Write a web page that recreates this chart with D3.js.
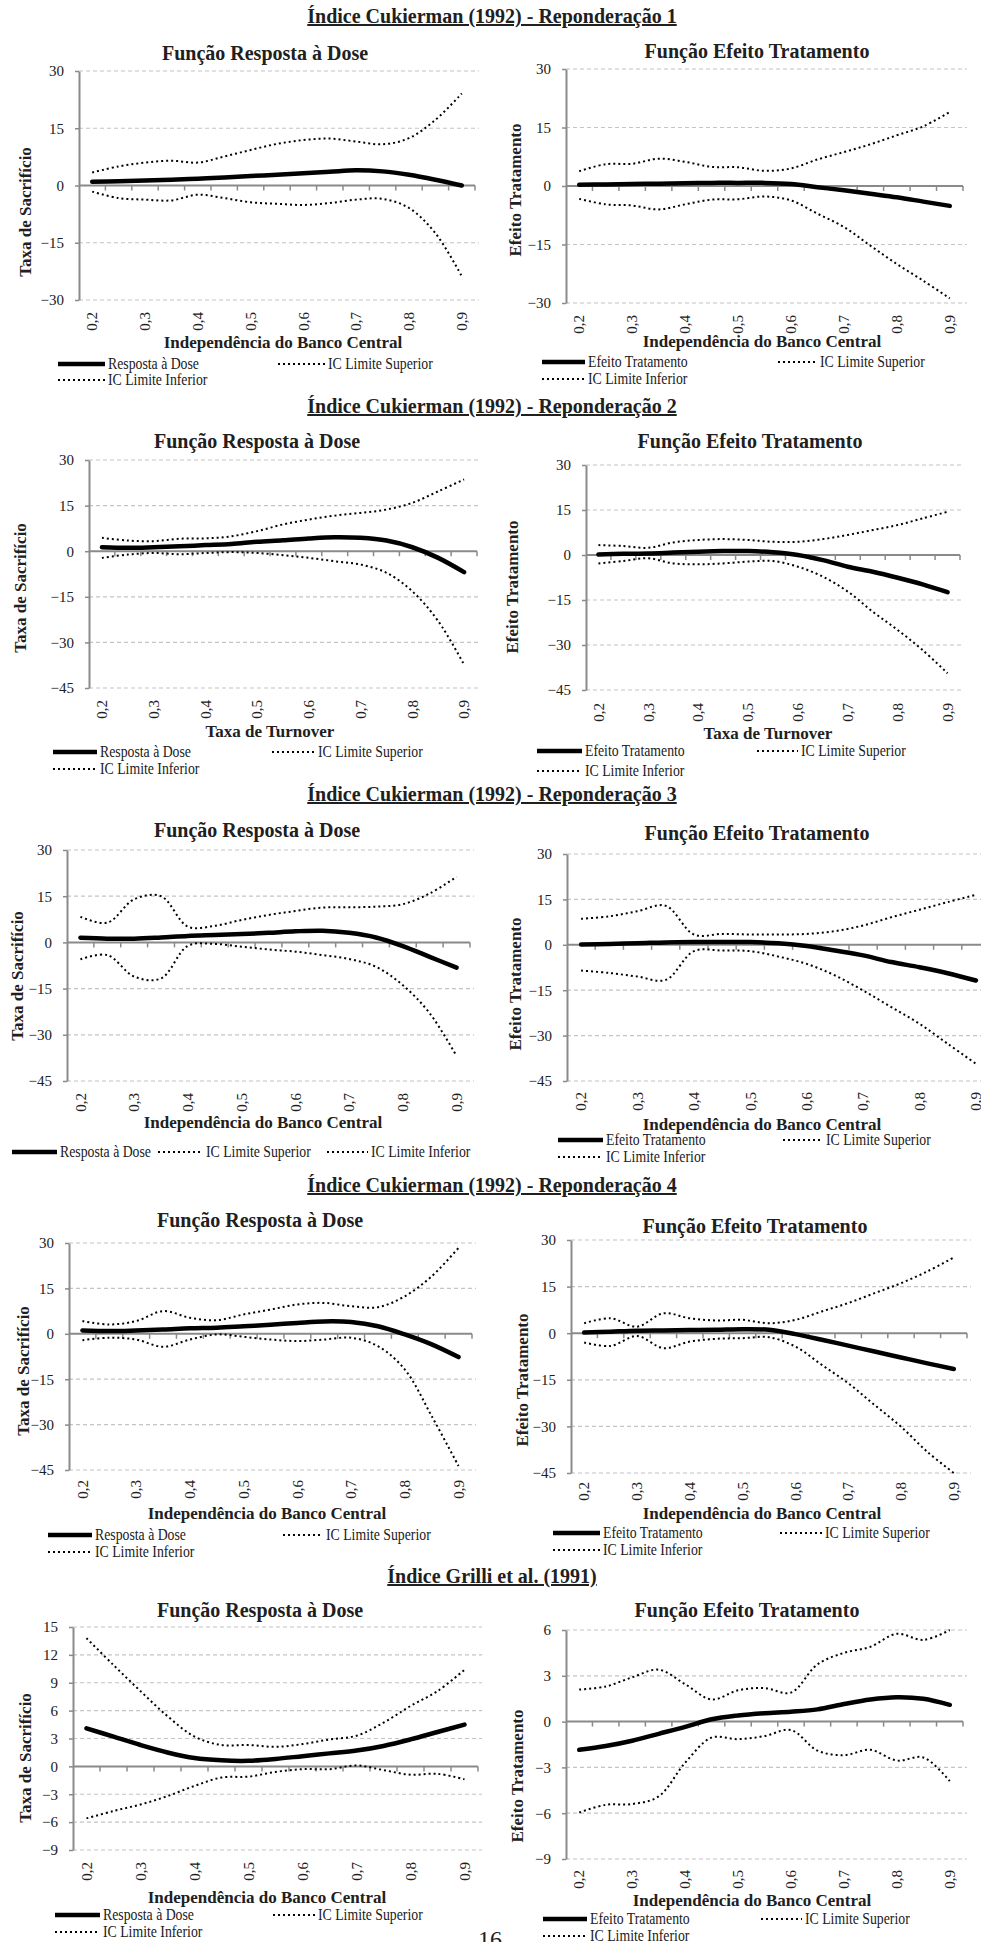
<!DOCTYPE html>
<html>
<head>
<meta charset="utf-8">
<script src="https://cdn.jsdelivr.net/npm/d3@7"></script>
<style>
  body { margin: 0; background: #fff; }
  text { font-family: "Liberation Serif", "Times New Roman", serif; fill: #202020; }
</style>
</head>
<body>
<script>
// 1. DATA ------------------------------------------------------------------

const xCats = [0.2, 0.25, 0.3, 0.35, 0.4, 0.45, 0.5, 0.55, 0.6, 0.65, 0.7, 0.75, 0.8, 0.85, 0.9];
const xTickLabels = ["0,2", "", "0,3", "", "0,4", "", "0,5", "", "0,6", "", "0,7", "", "0,8", "", "0,9"];

const sectionTitles = [
  "Índice Cukierman (1992) - Reponderação 1",
  "Índice Cukierman (1992) - Reponderação 2",
  "Índice Cukierman (1992) - Reponderação 3",
  "Índice Cukierman (1992) - Reponderação 4",
  "Índice Grilli et al. (1991)"
];

const ticks30 = [30, 15, 0, -15, -30];
const ticks45 = [30, 15, 0, -15, -30, -45];
const ticksG1 = [15, 12, 9, 6, 3, 0, -3, -6, -9];
const ticksG2 = [6, 3, 0, -3, -6, -9];

// Reponderação 1
const r1Dose   = [1.0, 1.1, 1.3, 1.5, 1.8, 2.1, 2.5, 2.8, 3.2, 3.6, 4.0, 3.7, 2.8, 1.5, 0.0];
const r1DoseUp = [3.4, 5.0, 6.0, 6.5, 6.0, 7.6, 9.3, 10.9, 11.9, 12.3, 11.5, 10.8, 12.4, 17.2, 24.1];
const r1DoseLo = [-1.6, -3.3, -3.7, -3.9, -2.4, -3.3, -4.4, -4.8, -5.1, -4.6, -3.7, -3.5, -5.9, -12.5, -23.8];
const r1Ef     = [0.3, 0.4, 0.5, 0.6, 0.7, 0.8, 0.8, 0.8, 0.5, -0.3, -1.1, -2.0, -2.9, -4.0, -5.1];
const r1EfUp   = [3.8, 5.6, 5.7, 7.0, 6.2, 4.9, 4.8, 3.9, 4.5, 6.8, 8.7, 10.7, 13.0, 15.3, 19.0];
const r1EfLo   = [-3.3, -4.7, -5.0, -6.0, -4.7, -3.5, -3.4, -2.7, -3.7, -7.1, -10.5, -15.3, -20.0, -24.3, -28.8];

// Reponderação 2
const r2Dose   = [1.3, 1.1, 1.3, 1.6, 2.0, 2.4, 3.1, 3.6, 4.2, 4.6, 4.4, 3.5, 1.3, -2.2, -6.9];
const r2DoseUp = [4.4, 3.5, 3.3, 4.1, 4.2, 4.9, 6.6, 8.8, 10.4, 11.7, 12.6, 13.7, 15.9, 19.7, 23.6];
const r2DoseLo = [-2.2, -1.1, -0.6, -1.0, -0.6, -0.3, -0.6, -1.3, -2.2, -3.3, -4.4, -7.1, -13.2, -23.0, -37.3];
const r2Ef     = [0.2, 0.4, 0.5, 0.8, 1.1, 1.3, 1.3, 0.9, 0.0, -1.7, -3.9, -5.6, -7.6, -9.8, -12.4];
const r2EfUp   = [3.3, 3.0, 2.4, 4.2, 5.0, 5.3, 5.0, 4.4, 4.4, 5.3, 6.7, 8.3, 10.0, 12.2, 14.4];
const r2EfLo   = [-2.8, -2.0, -1.1, -2.8, -3.1, -2.8, -2.2, -2.0, -3.9, -7.2, -12.2, -18.9, -25.0, -31.7, -39.4];

// Reponderação 3
const r3Dose   = [1.5, 1.2, 1.2, 1.6, 2.1, 2.4, 2.7, 3.1, 3.6, 3.8, 3.1, 1.6, -1.2, -4.7, -8.2];
const r3DoseUp = [8.3, 6.4, 14.0, 15.0, 5.1, 5.4, 7.3, 8.9, 10.2, 11.3, 11.4, 11.6, 12.4, 15.9, 21.3];
const r3DoseLo = [-5.5, -4.1, -11.1, -11.7, -1.1, -0.5, -1.4, -2.3, -3.0, -4.1, -5.4, -7.9, -13.9, -23.0, -36.9];
const r3Ef     = [0.1, 0.3, 0.5, 0.8, 0.9, 0.9, 0.9, 0.5, -0.4, -1.9, -3.5, -5.7, -7.4, -9.4, -11.8];
const r3EfUp   = [8.6, 9.4, 11.1, 12.9, 3.4, 3.6, 3.4, 3.4, 3.6, 4.5, 6.4, 9.1, 11.6, 14.1, 16.5];
const r3EfLo   = [-8.5, -9.3, -10.5, -11.6, -2.1, -1.9, -2.1, -3.9, -6.3, -10.1, -15.1, -20.6, -26.1, -32.7, -39.3];

// Reponderação 4
const r4Dose   = [1.1, 0.9, 1.1, 1.4, 1.8, 2.0, 2.5, 3.0, 3.6, 4.1, 3.9, 2.5, -0.2, -3.5, -7.7];
const r4DoseUp = [4.2, 3.1, 4.2, 7.5, 5.3, 4.5, 6.4, 8.0, 9.7, 10.2, 9.1, 8.8, 12.4, 19.0, 28.4];
const r4DoseLo = [-2.1, -1.3, -1.9, -4.3, -1.9, -0.2, -1.0, -1.9, -2.4, -1.9, -1.3, -4.1, -11.8, -27.2, -43.7];
const r4Ef     = [0.2, 0.5, 0.8, 0.9, 1.0, 1.1, 1.3, 1.1, -0.3, -2.1, -4.0, -5.9, -7.8, -9.7, -11.5];
const r4EfUp   = [3.2, 4.8, 2.1, 6.4, 4.8, 4.1, 4.3, 3.2, 4.3, 7.0, 9.7, 12.9, 16.1, 19.9, 24.4];
const r4EfLo   = [-3.0, -4.1, -0.9, -4.8, -2.7, -1.8, -1.6, -1.3, -4.3, -10.2, -16.1, -23.1, -30.1, -38.2, -45.0];

// Grilli et al. (1991)
const gDose    = [4.1, 3.2, 2.3, 1.5, 0.9, 0.65, 0.6, 0.8, 1.1, 1.4, 1.7, 2.2, 2.9, 3.7, 4.5];
const gDoseUp  = [13.8, 10.9, 8.1, 5.4, 3.2, 2.3, 2.3, 2.1, 2.4, 2.9, 3.3, 4.7, 6.5, 8.1, 10.4];
const gDoseLo  = [-5.6, -4.8, -4.1, -3.2, -2.1, -1.2, -1.1, -0.6, -0.3, -0.3, 0.1, -0.4, -0.9, -0.8, -1.4];
const gEf      = [-1.85, -1.6, -1.25, -0.8, -0.35, 0.15, 0.4, 0.55, 0.65, 0.8, 1.15, 1.45, 1.6, 1.5, 1.1];
const gEfUp    = [2.1, 2.3, 2.9, 3.4, 2.45, 1.45, 2.05, 2.2, 1.9, 3.75, 4.5, 4.9, 5.75, 5.35, 6.0];
const gEfLo    = [-5.95, -5.45, -5.4, -4.9, -2.7, -1.05, -1.15, -0.95, -0.55, -1.9, -2.2, -1.85, -2.55, -2.35, -3.9];

// 2. LAYOUT ----------------------------------------------------------------

const width = 981,
      height = 1942,
      axisColor = "#8a8a8a",
      gridColor = "#c4c4c4",
      lineColor = "#000";

const DOSE = "Função Resposta à Dose", EFEITO = "Função Efeito Tratamento";
const TS = "Taxa de Sacrifício", ET = "Efeito Tratamento";
const IBC = "Independência do Banco Central", TT = "Taxa de Turnover";

const sectionY = [23, 413, 801, 1192, 1583];

const panels = [
  { main: r1Dose, up: r1DoseUp, lo: r1DoseLo, name: "Resposta à Dose", ticks: ticks30,
    x0: 79, x1: 475, y0: 71, y1: 300, title: DOSE, tx: 265, ty: 60,
    yt: TS, ytx: 25, yty: 212, xlab: 312, xt: IBC, xtx: 283, xty: 348,
    leg: [[58, 105, 364], [278, 325, 364], [58, 105, 380]] },
  { main: r1Ef, up: r1EfUp, lo: r1EfLo, name: "Efeito Tratamento", ticks: ticks30,
    x0: 566, x1: 963, y0: 69, y1: 303, title: EFEITO, tx: 757, ty: 58,
    yt: ET, ytx: 515, yty: 190, xlab: 315, xt: IBC, xtx: 762, xty: 347,
    leg: [[542, 585, 362], [778, 817, 362], [542, 585, 379]] },
  { main: r2Dose, up: r2DoseUp, lo: r2DoseLo, name: "Resposta à Dose", ticks: ticks45,
    x0: 89, x1: 477, y0: 460, y1: 688, title: DOSE, tx: 257, ty: 448,
    yt: TS, ytx: 20, yty: 588, xlab: 700, xt: TT, xtx: 270, xty: 737,
    leg: [[53, 97, 752], [272, 315, 752], [53, 97, 769]] },
  { main: r2Ef, up: r2EfUp, lo: r2EfLo, name: "Efeito Tratamento", ticks: ticks45,
    x0: 586, x1: 960, y0: 465, y1: 690, title: EFEITO, tx: 750, ty: 448,
    yt: ET, ytx: 512, yty: 587, xlab: 703, xt: TT, xtx: 768, xty: 739,
    leg: [[537, 582, 751], [757, 798, 751], [537, 582, 771]] },
  { main: r3Dose, up: r3DoseUp, lo: r3DoseLo, name: "Resposta à Dose", ticks: ticks45,
    x0: 67, x1: 470, y0: 850, y1: 1081, title: DOSE, tx: 257, ty: 837,
    yt: TS, ytx: 17, yty: 976, xlab: 1093, xt: IBC, xtx: 263, xty: 1128,
    leg: [[12, 57, 1152], [158, 203, 1152], [327, 368, 1152]] },
  { main: r3Ef, up: r3EfUp, lo: r3EfLo, name: "Efeito Tratamento", ticks: ticks45,
    x0: 567, x1: 990, y0: 854, y1: 1081, title: EFEITO, tx: 757, ty: 840,
    yt: ET, ytx: 515, yty: 984, xlab: 1092, xt: IBC, xtx: 762, xty: 1130,
    leg: [[558, 603, 1140], [783, 823, 1140], [558, 603, 1157]] },
  { main: r4Dose, up: r4DoseUp, lo: r4DoseLo, name: "Resposta à Dose", ticks: ticks45,
    x0: 69, x1: 472, y0: 1243, y1: 1470, title: DOSE, tx: 260, ty: 1227,
    yt: TS, ytx: 23, yty: 1371, xlab: 1480, xt: IBC, xtx: 267, xty: 1519,
    leg: [[48, 92, 1535], [283, 323, 1535], [48, 92, 1552]] },
  { main: r4Ef, up: r4EfUp, lo: r4EfLo, name: "Efeito Tratamento", ticks: ticks45,
    x0: 571, x1: 967, y0: 1240, y1: 1473, title: EFEITO, tx: 755, ty: 1233,
    yt: ET, ytx: 522, yty: 1380, xlab: 1482, xt: IBC, xtx: 762, xty: 1519,
    leg: [[553, 600, 1533], [780, 822, 1533], [553, 600, 1550]] },
  { main: gDose, up: gDoseUp, lo: gDoseLo, name: "Resposta à Dose", ticks: ticksG1,
    x0: 73, x1: 478, y0: 1627, y1: 1850, title: DOSE, tx: 260, ty: 1617,
    yt: TS, ytx: 25, yty: 1758, xlab: 1862, xt: IBC, xtx: 267, xty: 1903,
    leg: [[55, 100, 1915], [273, 315, 1915], [55, 100, 1932]] },
  { main: gEf, up: gEfUp, lo: gEfLo, name: "Efeito Tratamento", ticks: ticksG2,
    x0: 566, x1: 963, y0: 1630, y1: 1859, title: EFEITO, tx: 747, ty: 1617,
    yt: ET, ytx: 517, yty: 1776, xlab: 1870, xt: IBC, xtx: 752, xty: 1906,
    leg: [[543, 587, 1919], [761, 802, 1919], [543, 587, 1936]] }
];

let svg = d3.select("body")
  .append("svg")
  .attr("width", width)
  .attr("height", height);

// 3. SECTION TITLES --------------------------------------------------------

svg.selectAll(".section")
  .data(sectionTitles)
  .enter()
  .append("text")
  .attr("class", "section")
  .attr("x", 492)
  .attr("y", (d, i) => sectionY[i])
  .attr("text-anchor", "middle")
  .attr("font-size", 20)
  .attr("font-weight", "bold")
  .attr("text-decoration", "underline")
  .text(d => d);

// 4. PANELS ----------------------------------------------------------------

const drawPanel = (p) => {
  const g = svg.append("g");

  const x = d3.scaleBand()
    .domain(d3.range(xCats.length))
    .range([p.x0, p.x1]);
  const cx = i => x(i) + x.bandwidth() / 2;

  const y = d3.scaleLinear()
    .domain([d3.min(p.ticks), d3.max(p.ticks)])
    .range([p.y1, p.y0]);

  // gridlines
  g.selectAll(".grid")
    .data(p.ticks.filter(t => t !== 0))
    .enter()
    .append("line")
    .attr("x1", p.x0)
    .attr("x2", p.x1 + 4)
    .attr("y1", d => y(d))
    .attr("y2", d => y(d))
    .attr("stroke", gridColor)
    .attr("stroke-width", 1.2)
    .attr("stroke-dasharray", "4,3");

  // y axis
  const yAxis = g.append("g")
    .attr("transform", `translate(${p.x0},0)`)
    .call(d3.axisLeft(y).tickValues(p.ticks).tickSize(4).tickSizeOuter(0).tickPadding(11));
  yAxis.select(".domain").attr("stroke", axisColor).attr("stroke-width", 2);
  yAxis.selectAll(".tick line").attr("stroke", axisColor).attr("stroke-width", 1.5);
  yAxis.selectAll(".tick text")
    .attr("font-size", 15)
    .attr("fill", "#262626");

  // x axis line at zero with ticks between categories
  g.append("line")
    .attr("x1", p.x0).attr("x2", p.x1)
    .attr("y1", y(0)).attr("y2", y(0))
    .attr("stroke", axisColor)
    .attr("stroke-width", 2);
  g.selectAll(".xtick")
    .data(d3.range(1, xCats.length + 1))
    .enter()
    .append("line")
    .attr("x1", i => x(i - 1) + x.bandwidth())
    .attr("x2", i => x(i - 1) + x.bandwidth())
    .attr("y1", y(0))
    .attr("y2", y(0) + 5)
    .attr("stroke", axisColor)
    .attr("stroke-width", 1.5);

  // category labels (rotated)
  g.selectAll(".xlab")
    .data(xTickLabels)
    .enter()
    .filter(d => d !== "")
    .append("text")
    .attr("transform", d => `translate(${cx(xTickLabels.indexOf(d))},${p.xlab}) rotate(-90)`)
    .attr("text-anchor", "end")
    .attr("dy", "0.35em")
    .attr("font-size", 15)
    .attr("fill", "#262626")
    .text(d => d);

  // series
  const line = d3.line()
    .x((d, i) => cx(i))
    .y(d => y(d))
    .curve(d3.curveCatmullRom.alpha(0.5));

  [p.up, p.lo].forEach(series => {
    g.append("path")
      .datum(series)
      .attr("d", line)
      .attr("fill", "none")
      .attr("stroke", lineColor)
      .attr("stroke-width", 2)
      .attr("stroke-dasharray", "2,3");
  });
  g.append("path")
    .datum(p.main)
    .attr("d", line)
    .attr("fill", "none")
    .attr("stroke", lineColor)
    .attr("stroke-width", 4.5)
    .attr("stroke-linecap", "round");

  // titles
  g.append("text")
    .attr("x", p.tx).attr("y", p.ty)
    .attr("text-anchor", "middle")
    .attr("font-size", 20)
    .attr("font-weight", "bold")
    .text(p.title);

  g.append("text")
    .attr("transform", `translate(${p.ytx},${p.yty}) rotate(-90)`)
    .attr("text-anchor", "middle")
    .attr("dy", "0.35em")
    .attr("font-size", 17)
    .attr("font-weight", "bold")
    .text(p.yt);

  g.append("text")
    .attr("x", p.xtx).attr("y", p.xty)
    .attr("text-anchor", "middle")
    .attr("font-size", 17)
    .attr("font-weight", "bold")
    .text(p.xt);

  // legend (narrow, tall serif text like the source)
  const legNames = [p.name, "IC Limite Superior", "IC Limite Inferior"];
  p.leg.forEach(([lx1, lx2, ly], k) => {
    g.append("line")
      .attr("x1", lx1).attr("x2", lx2)
      .attr("y1", ly).attr("y2", ly)
      .attr("stroke", lineColor)
      .attr("stroke-width", k === 0 ? 4.5 : 2)
      .attr("stroke-dasharray", k === 0 ? null : "2,3");
    const t = g.append("text")
      .attr("x", lx2 + 3).attr("y", ly + 5)
      .attr("font-size", 16)
      .text(legNames[k]);
    const w = t.node().getComputedTextLength();
    t.attr("textLength", w * 0.86).attr("lengthAdjust", "spacingAndGlyphs");
  });
};

panels.forEach(drawPanel);

// page number
svg.append("text")
  .attr("x", 490).attr("y", 1947)
  .attr("text-anchor", "middle")
  .attr("font-size", 24)
  .text("16");
</script>
</body>
</html>
